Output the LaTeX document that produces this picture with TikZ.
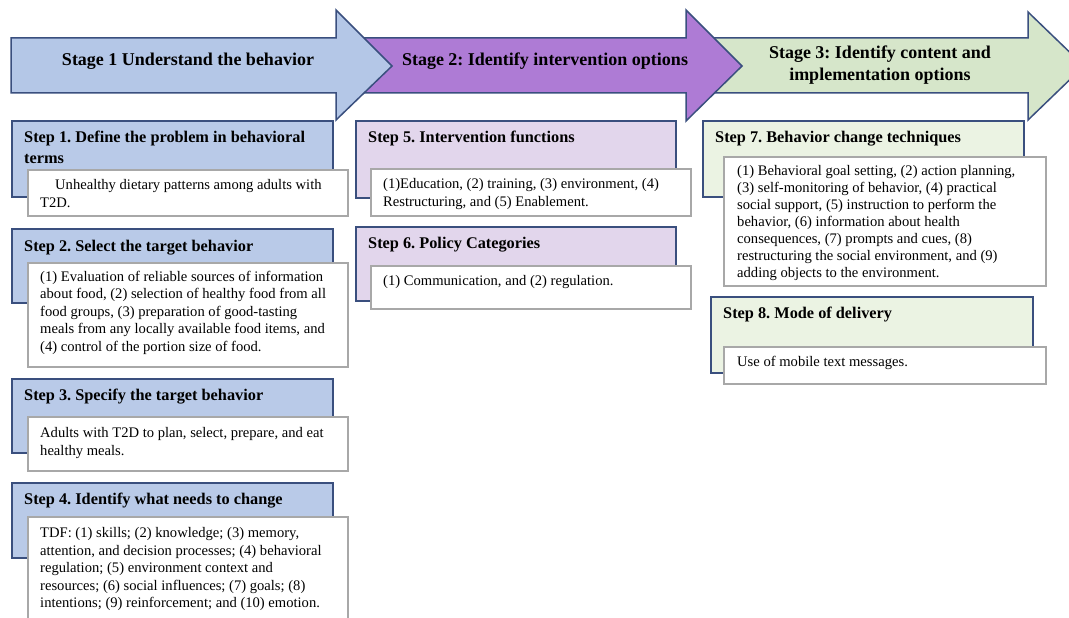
\documentclass[tikz,border=0pt]{standalone}
\usepackage{fontspec}
\setmainfont{Liberation Serif}
\frenchspacing
\definecolor{navy}{HTML}{3A4F7E}
\definecolor{boxgray}{HTML}{A8A8A8}
\definecolor{stageblue}{HTML}{B4C7E7}
\definecolor{stepblue}{HTML}{B9CAE8}
\definecolor{stagepurple}{HTML}{AE7BD5}
\definecolor{steppurple}{HTML}{E2D6EC}
\definecolor{stagegreen}{HTML}{D6E6CA}
\definecolor{stepgreen}{HTML}{EBF3E3}
\begin{document}
\begin{tikzpicture}[x=1pt,y=-1pt,
  stagearrow/.style={draw=navy, line width=1.5pt, line join=miter},
  stepbox/.style={draw=navy, line width=1.8pt, rectangle, inner sep=0pt, anchor=north west},
  whitebox/.style={draw=boxgray, fill=white, line width=1.8pt, rectangle, inner sep=0pt, anchor=north west},
  body/.style={font=\fontsize{14.6}{17.4}\selectfont, align=left, inner sep=0pt, anchor=base west},
  steptitle/.style={font=\fontsize{16.3}{21}\selectfont\bfseries, align=left, inner sep=0pt, anchor=base west},
  stagetitle/.style={font=\fontsize{18}{22}\selectfont\bfseries, align=center, inner sep=0pt, anchor=base}]
\useasboundingbox (0,0) rectangle (1069,618);
\clip (0,0) rectangle (1069,618);
\fill[white] (0,0) rectangle (1069,618);
% stage arrows
\draw[stagearrow, fill=stagegreen] (713,38) -- (1028,38) -- (1028,12) -- (1084,66) -- (1028,120) -- (1028,93) -- (713,93) -- cycle;
\draw[stagearrow, fill=stagepurple] (363,38) -- (686,38) -- (686,10) -- (742,66) -- (686,121) -- (686,93) -- (363,93) -- cycle;
\draw[stagearrow, fill=stageblue] (11,38) -- (336,38) -- (336,10) -- (392,66) -- (336,120) -- (336,93) -- (11,93) -- cycle;
\node[stagetitle] (st1) at (188,66) {Stage 1 Understand the behavior};
\node[stagetitle] (st2) at (545,66) {Stage 2: Identify intervention options};
\node[stagetitle] (st3) at (880,81) {Stage 3: Identify content and\\implementation options};
% step boxes
\node[stepbox, fill=stepblue, minimum width=321pt, minimum height=76pt] (s1) at (11,120) {};
\node[stepbox, fill=stepblue, minimum width=321pt, minimum height=74pt] (s2) at (11,228) {};
\node[stepbox, fill=stepblue, minimum width=321pt, minimum height=74pt] (s3) at (11,378) {};
\node[stepbox, fill=stepblue, minimum width=321pt, minimum height=75pt] (s4) at (11,482) {};
\node[stepbox, fill=steppurple, minimum width=320pt, minimum height=77pt] (s5) at (355,120) {};
\node[stepbox, fill=steppurple, minimum width=320pt, minimum height=74pt] (s6) at (355,226) {};
\node[stepbox, fill=stepgreen, minimum width=321pt, minimum height=76pt] (s7) at (702,120) {};
\node[stepbox, fill=stepgreen, minimum width=322pt, minimum height=76pt] (s8) at (710,296) {};
% white boxes
\node[whitebox, minimum width=320pt, minimum height=46pt] (w1) at (27,169) {};
\node[whitebox, minimum width=320pt, minimum height=104pt] (w2) at (27,262) {};
\node[whitebox, minimum width=320pt, minimum height=54pt] (w3) at (27,416) {};
\node[whitebox, minimum width=320pt, minimum height=110pt] (w4) at (27,516) {};
\node[whitebox, minimum width=320pt, minimum height=47pt] (w5) at (370,168) {};
\node[whitebox, minimum width=320pt, minimum height=43pt] (w6) at (370,265) {};
\node[whitebox, minimum width=322pt, minimum height=129pt] (w7) at (723,156) {};
\node[whitebox, minimum width=322pt, minimum height=37pt] (w8) at (723,346) {};
% titles
\node[steptitle] (t1) at (24,163.5) {Step 1. Define the problem in behavioral\\terms};
\node[steptitle] (t2) at (24,251.5) {Step 2. Select the target behavior};
\node[steptitle] (t3) at (24,400.5) {Step 3. Specify the target behavior};
\node[steptitle] (t4) at (24,504.5) {Step 4. Identify what needs to change};
\node[steptitle] (t5) at (368,142.5) {Step 5. Intervention functions};
\node[steptitle] (t6) at (368,248.5) {Step 6. Policy Categories};
\node[steptitle] (t7) at (715,142.5) {Step 7. Behavior change techniques};
\node[steptitle] (t8) at (723,318.5) {Step 8. Mode of delivery};
% body texts (anchor = baseline of last line)
\node[body, font=\fontsize{14.6}{18}\selectfont] (b1) at (40,207) {\hspace*{15pt}Unhealthy dietary patterns among adults with\\T2D.};
\node[body] (b2) at (40,351) {(1) Evaluation of reliable sources of information\\about food, (2) selection of healthy food from all\\food groups, (3) preparation of good-tasting\\meals from any locally available food items, and\\(4) control of the portion size of food.};
\node[body, font=\fontsize{14.6}{18}\selectfont] (b3) at (40,455.5) {Adults with T2D to plan, select, prepare, and eat\\healthy meals.};
\node[body, font=\fontsize{14.6}{17.5}\selectfont] (b4) at (40,607.5) {TDF: (1) skills; (2) knowledge; (3) memory,\\attention, and decision processes; (4) behavioral\\regulation; (5) environment context and\\resources; (6) social influences; (7) goals; (8)\\intentions; (9) reinforcement; and (10) emotion.};
\node[body, font=\fontsize{14.6}{18}\selectfont] (b5) at (383,206.5) {(1)Education, (2) training, (3) environment, (4)\\Restructuring, and (5) Enablement.};
\node[body] (b6) at (383,285.5) {(1) Communication, and (2) regulation.};
\node[body, font=\fontsize{14.6}{16.9}\selectfont] (b7) at (737,277) {(1) Behavioral goal setting, (2) action planning,\\(3) self-monitoring of behavior, (4) practical\\social support, (5) instruction to perform the\\behavior, (6) information about health\\consequences, (7) prompts and cues, (8)\\restructuring the social environment, and (9)\\adding objects to the environment.};
\node[body] (b8) at (737,366.5) {Use of mobile text messages.};
\end{tikzpicture}
\end{document}
